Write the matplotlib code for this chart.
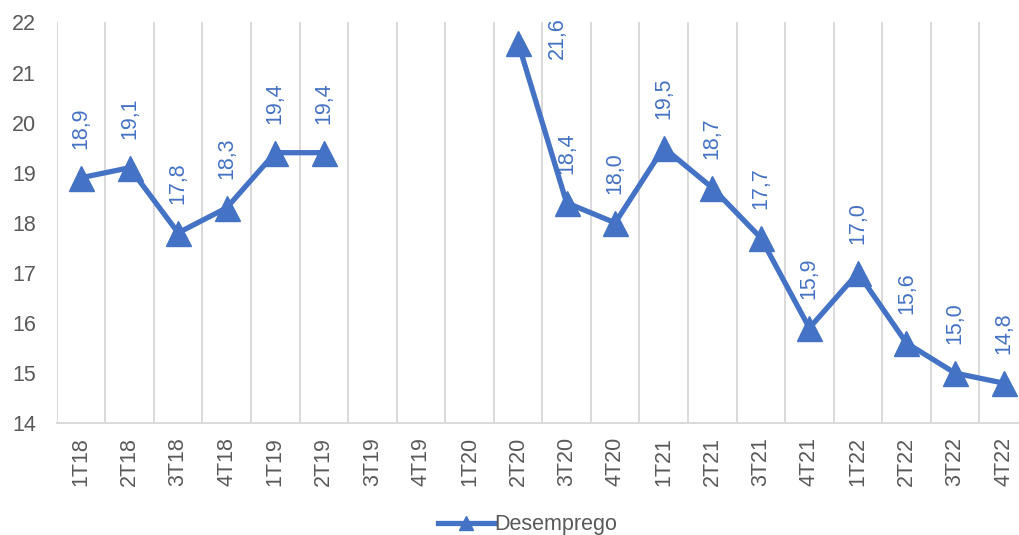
import matplotlib
matplotlib.use("Agg")
import matplotlib.pyplot as plt
import numpy as np

plt.rcParams['font.family'] = ['Liberation Sans', 'DejaVu Sans']

# Quarterly unemployment rate (%), gaps where no survey was published
quarters = ['1T18', '2T18', '3T18', '4T18', '1T19', '2T19', '3T19', '4T19',
            '1T20', '2T20', '3T20', '4T20', '1T21', '2T21', '3T21', '4T21',
            '1T22', '2T22', '3T22', '4T22']
desemprego = [18.9, 19.1, 17.8, 18.3, 19.4, 19.4, None, None,
              None, 21.6, 18.4, 18.0, 19.5, 18.7, 17.7, 15.9,
              17.0, 15.6, 15.0, 14.8]

blue = '#4472C4'
grey_text = '#595959'
grid_col = '#D9D9D9'

fig = plt.figure(figsize=(10.19, 5.35), dpi=100)
# axes runs slightly past the right edge of the canvas
ax = fig.add_axes([0.0557, 0.209, 0.953, 0.749])

x = np.arange(len(quarters))
y = np.array([np.nan if v is None else v for v in desemprego])
ax.plot(x, y, color=blue, lw=3.8, marker='^', markersize=18,
        label='Desemprego', zorder=3, clip_on=False)

# Value labels, rotated, sitting above each point
for xi, v in zip(x, desemprego):
    if v is None:
        continue
    txt = f'{v:.1f}'.replace('.', ',')
    if v > 21:
        ax.annotate(txt, (xi, v), xytext=(28, 3), textcoords='offset points',
                    rotation=90, ha='center', va='center', color=blue,
                    fontsize=15.5, annotation_clip=False)
    else:
        ax.annotate(txt, (xi, v), xytext=(0, 21), textcoords='offset points',
                    rotation=90, ha='center', va='bottom', color=blue,
                    fontsize=15.5)

ax.set_xlim(-0.5, len(quarters) - 0.5)
ax.set_ylim(14, 22)
ax.set_yticks(np.arange(14, 23, 1))
ax.set_xticks(x)
ax.set_xticklabels(quarters, rotation=90)
ax.set_xticks(np.arange(-0.5, len(quarters), 1), minor=True)
ax.grid(which='minor', axis='x', color=grid_col, lw=1.4)
ax.tick_params(which='both', length=0)
ax.tick_params(axis='both', colors=grey_text, labelsize=15.5)
ax.tick_params(axis='x', pad=10)
ax.tick_params(axis='y', pad=15)

for side in ['top', 'right', 'left']:
    ax.spines[side].set_visible(False)
ax.spines['bottom'].set_color(grid_col)
ax.spines['bottom'].set_linewidth(1.4)

fig.legend(loc='lower center', bbox_to_anchor=(0.518, -0.037), frameon=False,
           fontsize=15.5, labelcolor=grey_text, handlelength=2.6,
           handletextpad=0.0, markerscale=0.55)

fig.savefig('out.png', dpi=100)
